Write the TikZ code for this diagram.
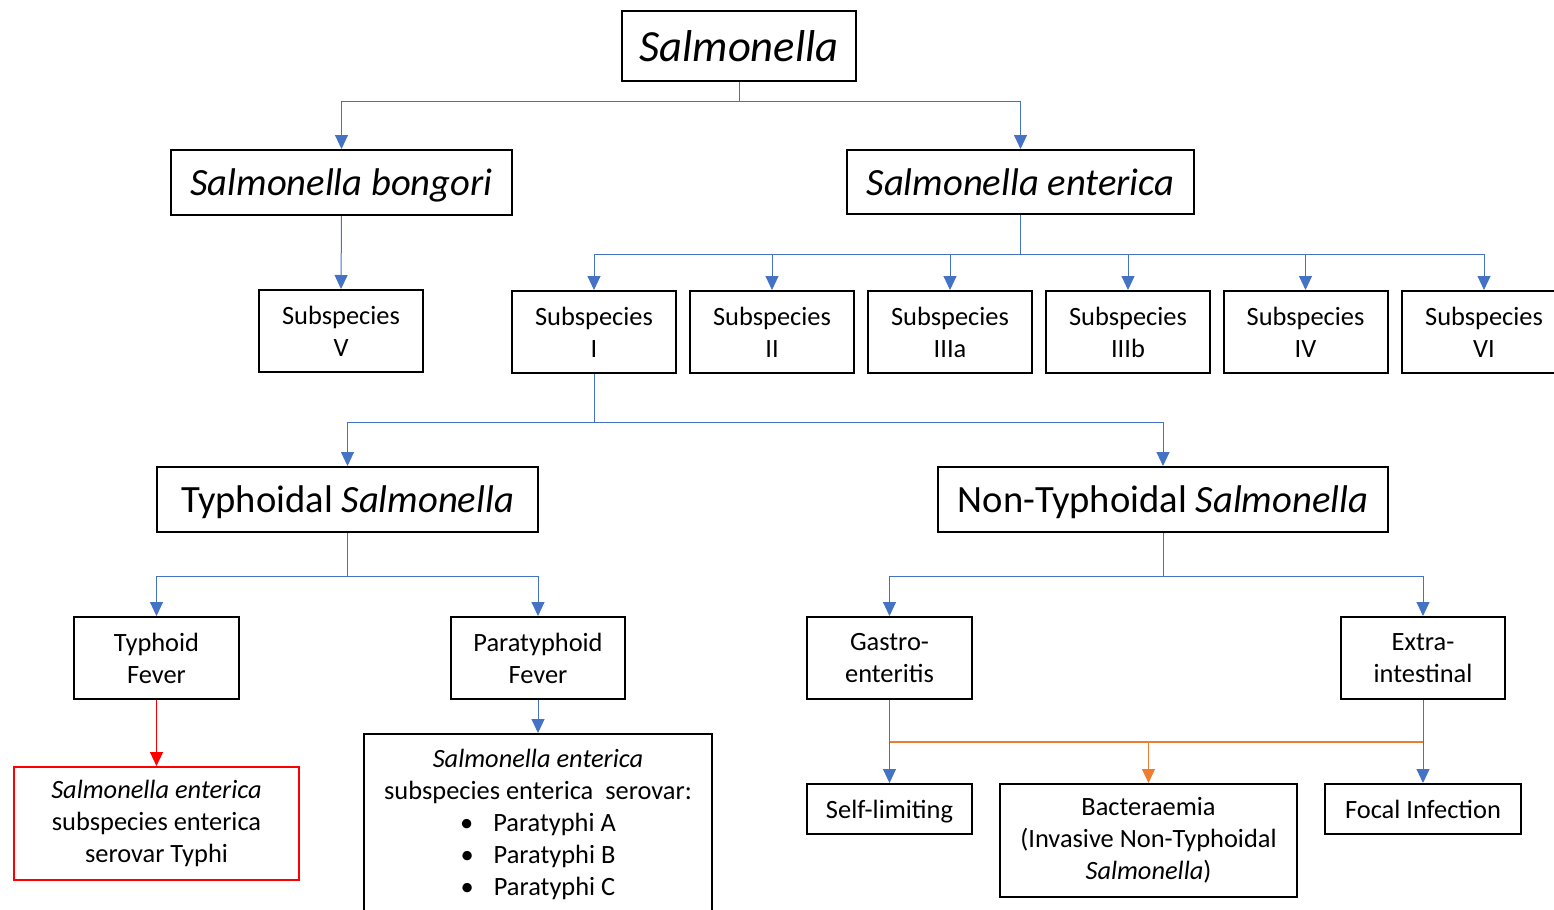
\documentclass[tikz,border=0pt]{standalone}
\usepackage{fontspec}
\setmainfont{Carlito}
\usetikzlibrary{arrows.meta}
\definecolor{linkblue}{HTML}{4472C4}
\definecolor{linkorange}{HTML}{ED7D31}
\newcommand{\smallsz}{\fontsize{13.2}{16}\selectfont}
\newcommand{\midsz}{\fontsize{19.3}{23}\selectfont}
\newcommand{\topsz}{\fontsize{22.3}{27}\selectfont}
\begin{document}
\begin{tikzpicture}[x=0.5pt,y=-0.5pt]
\tikzstyle{box}=[rectangle,draw,line width=1pt,inner sep=0pt,align=center,font=\smallsz]
\tikzstyle{subsp}=[box,minimum width=82pt,minimum height=41pt]
\tikzstyle{link}=[draw=linkblue,line width=0.5pt]
\tikzstyle{arr}=[link,-{Triangle[length=7pt,width=6.5pt]},linkblue]
  \useasboundingbox (0,0) rectangle (1554,910);

  % genus and species
  \node[box,font=\topsz,minimum width=117pt,minimum height=35pt] (salm) at (739,46) {\textit{Salmonella}};
  \node[box,font=\midsz,text depth=0pt,minimum width=170.5pt,minimum height=32.5pt] (bong) at (341.5,182.5) {\textit{Salmonella bongori}};
  \node[box,font=\midsz,minimum width=173.5pt,minimum height=32pt] (ent) at (1020.5,182) {\textit{Salmonella enterica}};

  % subspecies
  \node[subsp] (subV) at (341,331) {Subspecies\\V};
  \node[subsp] (subI) at (594,332) {Subspecies\\I};
  \node[subsp] (subII) at (772,332) {Subspecies\\II};
  \node[subsp] (subIIIa) at (950,332) {Subspecies\\IIIa};
  \node[subsp] (subIIIb) at (1128,332) {Subspecies\\IIIb};
  \node[subsp] (subIV) at (1305.5,332) {Subspecies\\IV};
  \node[subsp] (subVI) at (1484,332) {Subspecies\\VI};

  % typhoidal / non-typhoidal
  \node[box,font=\midsz,text depth=0pt,minimum width=190.5pt,minimum height=32.5pt] (typh) at (347.5,499.5) {Typhoidal \textit{Salmonella}};
  \node[box,font=\midsz,text depth=0pt,minimum width=225pt,minimum height=32.5pt] (ntyph) at (1163,499.5) {Non-Typhoidal \textit{Salmonella}};

  % diseases
  \node[box,minimum width=82.5pt,minimum height=41pt] (tfev) at (156.5,658) {Typhoid\\Fever};
  \node[box,minimum width=87pt,minimum height=41pt] (pfev) at (538,658) {Paratyphoid\\Fever};
  \node[box,minimum width=82.5pt,minimum height=41pt] (gastro) at (889.5,658) {Gastro-\\enteritis};
  \node[box,minimum width=82pt,minimum height=41pt] (extra) at (1423,658) {Extra-\\intestinal};

  \node[box,draw=red,minimum width=142.5pt,minimum height=56.5pt] (typhi) at (156.5,823.5) {\textit{Salmonella enterica}\\subspecies enterica\\serovar Typhi};
  \node[box,anchor=north] (para) at (538,733) {\begin{minipage}[t][100pt][t]{174pt}\centering
    \rule{0pt}{16.5pt}\textit{Salmonella enterica}\\subspecies enterica\ \ serovar:\\
    \textbullet\hspace{10pt}Paratyphi A\\\textbullet\hspace{10pt}Paratyphi B\\\textbullet\hspace{10pt}Paratyphi C\end{minipage}};
  \node[box,text depth=0pt,minimum width=82.5pt,minimum height=25pt] (self) at (889.5,809) {Self-limiting};
  \node[box,minimum width=148.5pt,minimum height=56.5pt] (bact) at (1148.5,840.5) {Bacteraemia\\(Invasive Non-Typhoidal\\\textit{Salmonella})};
  \node[box,minimum width=98pt,minimum height=25pt] (focal) at (1423,809) {Focal Infection};

  % connectors
  \draw[link] (salm.south) -- ++(0,19) coordinate (j1);
  \draw[arr] (j1) -| (bong.north);
  \draw[arr] (j1) -| (ent.north);
  \draw[arr] (bong.south) -- (subV.north);
  \draw[link] (ent.south) -- ++(0,39) coordinate (j2);
  \foreach \s in {subI,subII,subIIIa,subIIIb,subIV,subVI}
    \draw[arr] (j2) -| (\s.north);
  \draw[link] (subI.south) -- ++(0,48) coordinate (j3);
  \draw[arr] (j3) -| (typh.north);
  \draw[arr] (j3) -| (ntyph.north);
  \draw[link] (typh.south) -- ++(0,43) coordinate (j4);
  \draw[arr] (j4) -| (tfev.north);
  \draw[arr] (j4) -| (pfev.north);
  \draw[link] (ntyph.south) -- ++(0,43) coordinate (j5);
  \draw[arr] (j5) -| (gastro.north);
  \draw[arr] (j5) -| (extra.north);
  \draw[arr,draw=red,red] (tfev.south) -- (typhi.north);
  \draw[arr] (pfev.south) -- (para.north);
  \draw[arr] (gastro.south) -- (self.north);
  \draw[arr] (extra.south) -- (focal.north);
  \coordinate (oL) at (889.5,742);
  \coordinate (oR) at (1423,742);
  \coordinate (oM) at (1148.5,742);
  \draw[draw=linkorange,line width=0.6pt] (oL) -- (oR);
  \draw[arr,draw=linkorange,linkorange] (oM) -- (bact.north);
\end{tikzpicture}
\end{document}
